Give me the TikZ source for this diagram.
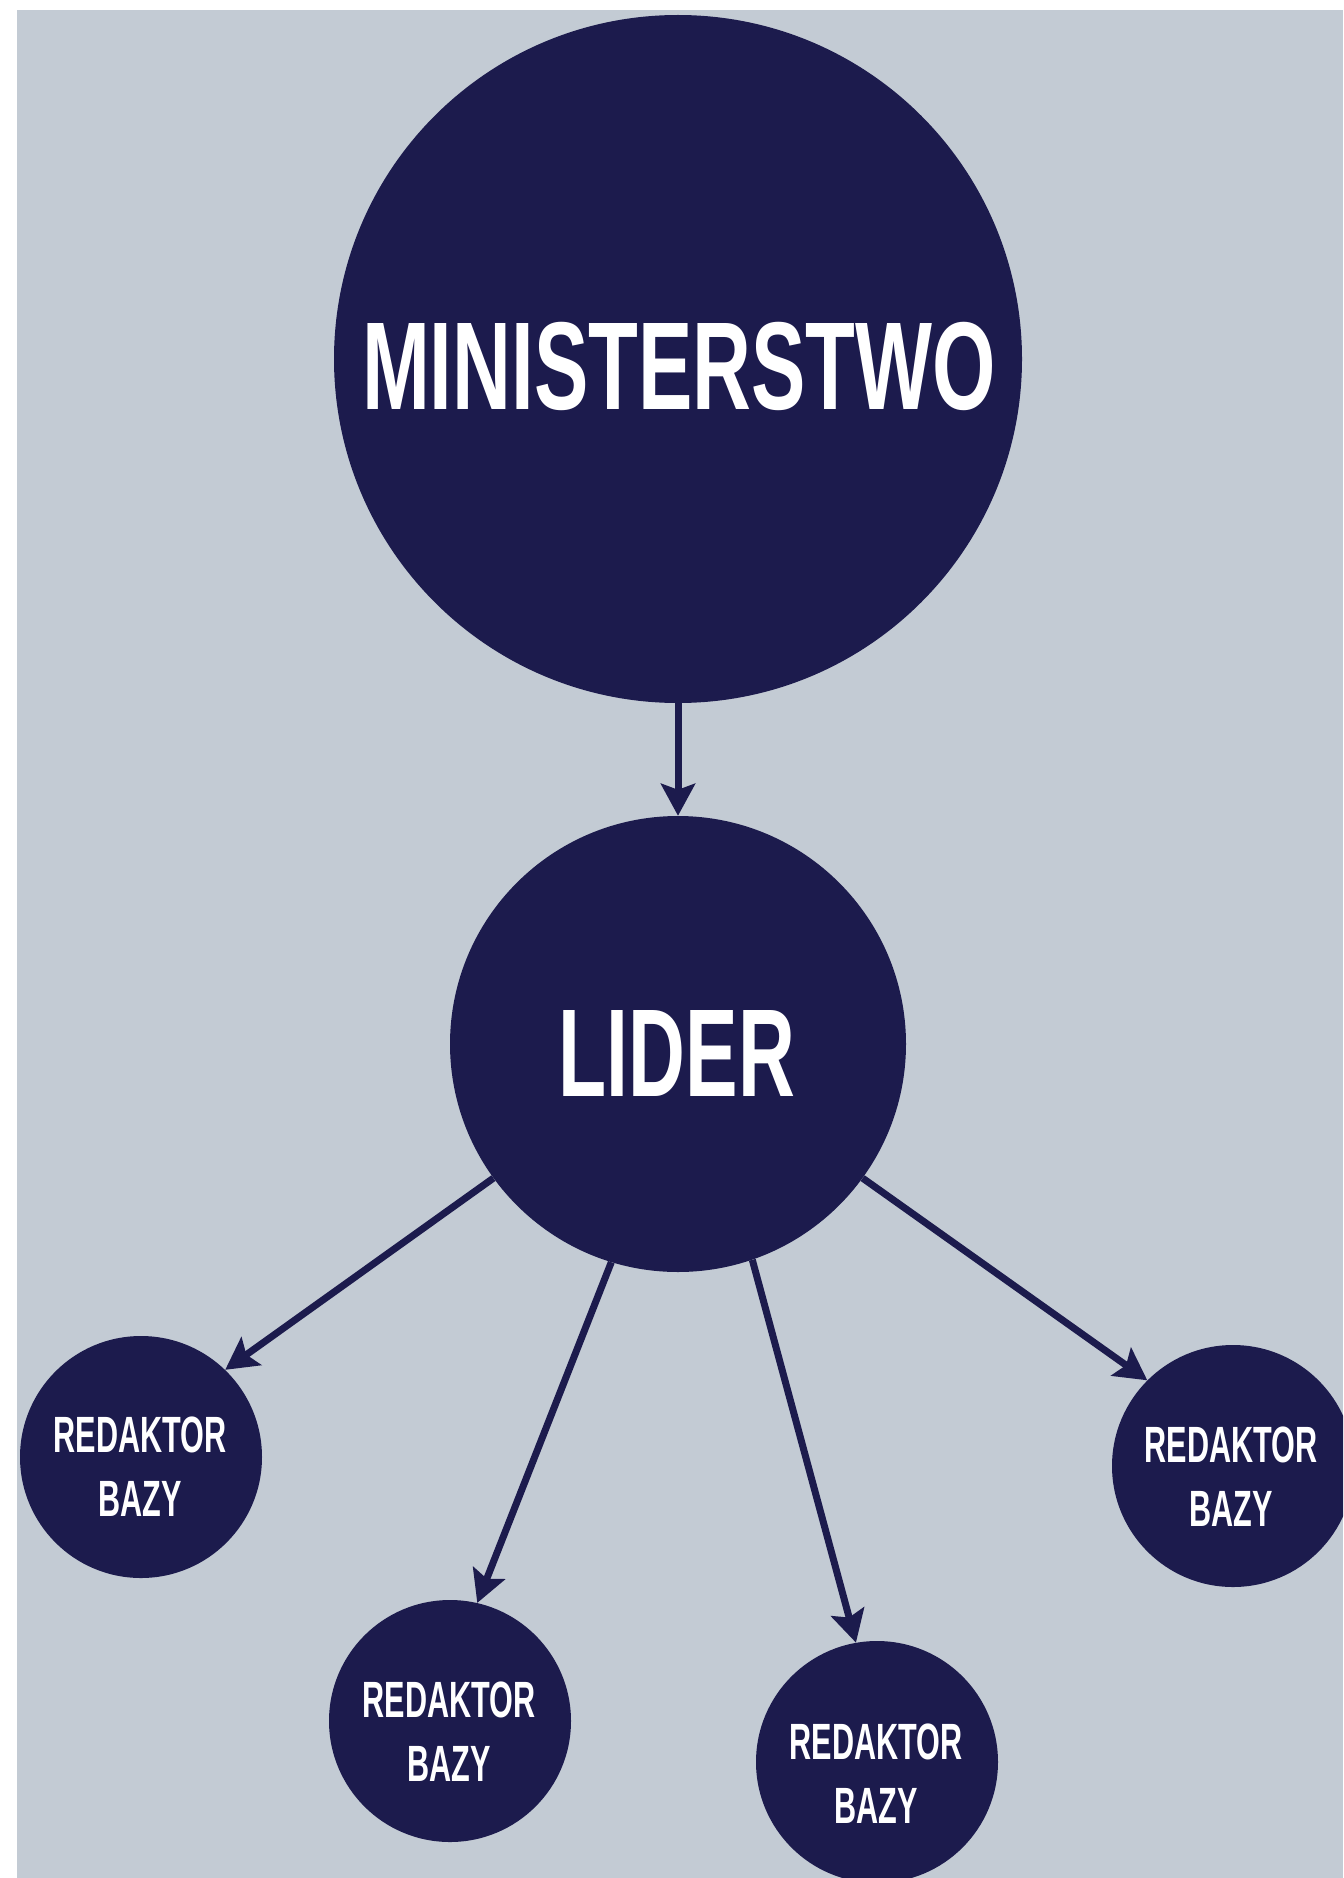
\documentclass[tikz,border=0pt]{standalone}
\usepackage{fontspec}
\usetikzlibrary{arrows.meta}
\newfontfamily\bigfnt{Liberation Sans}[FakeStretch=0.63]
\newfontfamily\widefnt{Liberation Sans}[FakeStretch=0.652]
\newfontfamily\smallfnt{Liberation Sans}[FakeStretch=0.60]
\definecolor{navy}{RGB}{28,27,77}
\definecolor{bggray}{RGB}{195,203,212}
\tikzset{
  bub/.style={circle, fill=navy, draw=none, inner sep=0pt},
  bigbub/.style={bub, minimum size=688pt},
  midbub/.style={bub, minimum size=456pt},
  smallbub/.style={bub, minimum size=242pt},
  bigtxt/.style={text=white, inner sep=0pt, anchor=base, font=\bigfnt\bfseries\fontsize{125}{150}\selectfont},
  widetxt/.style={bigtxt, font=\widefnt\bfseries\fontsize{125}{150}\selectfont},
  smalltxt/.style={text=white, inner sep=0pt, anchor=north, align=center, font=\smallfnt\bfseries\fontsize{51}{63.5}\selectfont},
  conn/.style={draw=navy, line width=7pt, -{Stealth[length=32pt, width=34pt, inset=6pt]}}
}
\begin{document}
\begin{tikzpicture}[x=1pt, y=-1pt]
\useasboundingbox (0,0) rectangle (1343,1878);
\clip (0,0) rectangle (1343,1878);
\fill[white] (0,0) rectangle (1343,1878);
\fill[bggray] (17,10) rectangle (1343,1878);

\node[bigbub] (m) at (678,359) {};
\node[midbub] (l) at (678,1044) {};
\node[smallbub] (a) at (141,1457) {};
\node[smallbub] (b) at (450,1721) {};
\node[smallbub] (c) at (877,1762) {};
\node[smallbub] (d) at (1233,1466) {};

\node[widetxt] (mt) at (679,409) {MINISTERSTWO};
\node[bigtxt] (lt) at (677,1096) {LIDER};
\node[smalltxt] (at) at (140,1417) {REDAKTOR\\BAZY};
\node[smalltxt] (bt) at (449,1682) {REDAKTOR\\BAZY};
\node[smalltxt] (ct) at (876,1724) {REDAKTOR\\BAZY};
\node[smalltxt] (dt) at (1231,1427) {REDAKTOR\\BAZY};

\draw[conn] (m.south) -- (l.north);
\draw[conn] (l.216) -- (a.46);
\draw[conn] (l.253) -- (b.77);
\draw[conn] (l.289) -- (c.100);
\draw[conn] (l.324.6) -- (d.135);
\end{tikzpicture}
\end{document}
